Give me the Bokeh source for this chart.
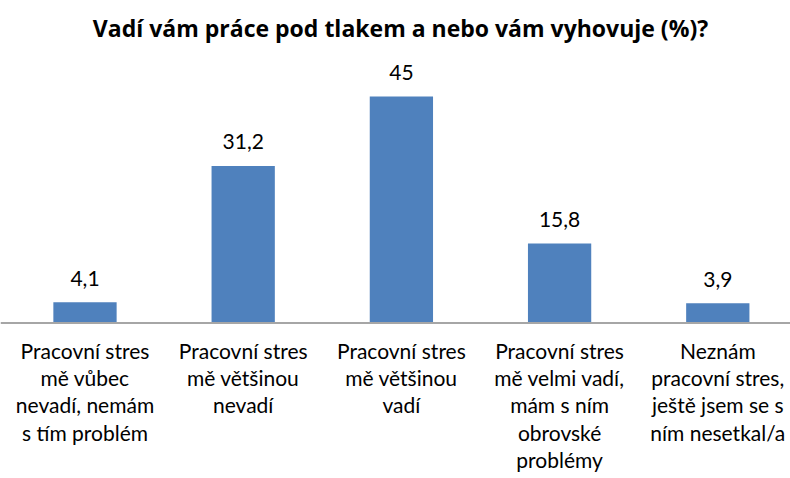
from bokeh.plotting import figure
from bokeh.models import ColumnDataSource, Range1d, Label, Span
from bokeh.core.properties import value
from bokeh.embed import file_html
from bokeh.resources import INLINE

title = "Vadí vám práce pod tlakem a nebo vám vyhovuje (%)?"
categories = [
    "Pracovní stres\nmě vůbec\nnevadí, nemám\ns tím problém",
    "Pracovní stres\nmě většinou\nnevadí",
    "Pracovní stres\nmě většinou\nvadí",
    "Pracovní stres\nmě velmi vadí,\nmám s ním\nobrovské\nproblémy",
    "Neznám\npracovní stres,\nještě jsem se s\nním nesetkal/a",
]
values = [4.1, 31.2, 45, 15.8, 3.9]
value_labels = ["4,1", "31,2", "45", "15,8", "3,9"]

W, H = 790, 478
xs = list(range(len(categories)))
src = ColumnDataSource(dict(x=xs, top=values, vl=value_labels, cat=categories,
                            zero=[0] * len(xs)))

p = figure(width=W, height=H, output_backend="svg", toolbar_location=None,
           x_range=Range1d(-0.5341, 4.4596), y_range=Range1d(-30.90, 64.08),
           min_border=0, min_border_left=0, min_border_right=0,
           min_border_top=0, min_border_bottom=0)
p.axis.visible = False
p.grid.visible = False
p.outline_line_color = None
p.background_fill_color = "white"
p.border_fill_color = "white"

p.vbar(x="x", top="top", bottom=0, width=0.4, source=src,
       fill_color="#4F81BD", line_color=None)

p.add_layout(Span(location=0, dimension="width", line_color="#A6A6A6", line_width=2))

p.text(x="x", y="top", text="vl", source=src, y_offset=-24,
       text_align="center", text_baseline="middle",
       text_font=value("Lato"), text_font_size="21px", text_color="#000000")

p.text(x="x", y="zero", text="cat", source=src, y_offset=15,
       text_align="center", text_baseline="top", text_line_height=1.09,
       text_font=value("Lato"), text_font_size="21px", text_color="#000000")

p.add_layout(Label(x=400, y=H - 27, x_units="screen", y_units="screen",
                   text=title, text_align="center", text_baseline="middle",
                   text_font="Open Sans", text_font_style="bold", text_font_size="23px",
                   text_color="#000000"))

open("out.html", "w").write(file_html(p, INLINE))
